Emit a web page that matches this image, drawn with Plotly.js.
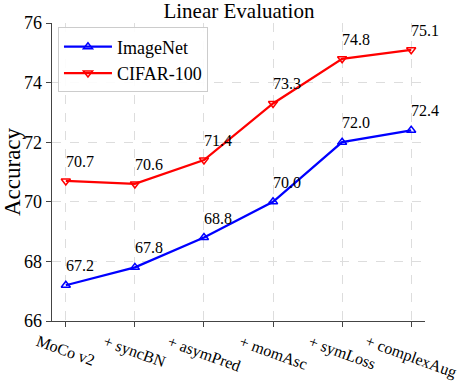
<!DOCTYPE html>
<html>
<head>
<meta charset="utf-8">
<script src="https://cdn.plot.ly/plotly-3.0.1.min.js"></script>
<style>
  body { margin: 0; background: #fff; }
  #chart { width: 464px; height: 382px; }
</style>
</head>
<body>
<div id="chart"></div>
<script>
// steps added on top of MoCo v2
var steps = ["MoCo v2", "+ syncBN", "+ asymPred", "+ momAsc", "+ symLoss", "+ complexAug"];
var imagenet = [67.2, 67.8, 68.8, 70.0, 72.0, 72.4];
var cifar = [70.7, 70.6, 71.4, 73.3, 74.8, 75.1];
var yTicks = [66, 68, 70, 72, 74, 76];

var xs = steps.map((s, i) => i);
var serif = "Liberation Serif, Times New Roman, serif";

var trace1 = {
    x: xs, y: imagenet, name: "ImageNet",
    type: "scatter", mode: "lines+markers",
    line: {color: "#0000ff", width: 2.3},
    marker: {symbol: "triangle-up-open", size: 8, color: "#0000ff", line: {width: 1.5}}
};
var trace2 = {
    x: xs, y: cifar, name: "CIFAR-100",
    type: "scatter", mode: "lines+markers",
    line: {color: "#ff0000", width: 2.3},
    marker: {symbol: "triangle-down-open", size: 8, color: "#ff0000", line: {width: 1.5}}
};

var notes = [];
// value labels, above right of each point
[imagenet, cifar].forEach(function(series) {
    series.forEach(function(v, i) {
        notes.push({
            x: i, y: v, xref: "x", yref: "y",
            text: v.toFixed(1), showarrow: false,
            xanchor: "left", yanchor: "bottom", xshift: -2, yshift: 9,
            font: {family: serif, size: 16, color: "#000"}
        });
    });
});
// rotated category labels, centred under ticks
steps.forEach(function(s, i) {
    notes.push({
        x: i, y: 0, xref: "x", yref: "paper",
        text: s, showarrow: false, textangle: 20,
        xanchor: "center", yanchor: "top", yshift: -9,
        font: {family: serif, size: 16, color: "#000"}
    });
});

var layout = {
    width: 464, height: 382,
    margin: {l: 52, r: 39, t: 23, b: 61},
    paper_bgcolor: "#fff", plot_bgcolor: "#fff",
    font: {family: serif, size: 16, color: "#000"},
    title: {text: "Linear Evaluation", font: {family: serif, size: 21, color: "#000"},
            x: 0.515, xanchor: "center", y: 0.972, yanchor: "middle"},
    xaxis: {
        range: [-0.2, 5.2], tickvals: xs, showticklabels: false,
        showline: true, linecolor: "#444", linewidth: 1.3,
        ticks: "outside", ticklen: 5, tickcolor: "#444",
        showgrid: true, gridcolor: "#dddddd", griddash: "dash", gridwidth: 1,
        zeroline: false
    },
    yaxis: {
        range: [66, 76], tickvals: yTicks,
        showline: true, linecolor: "#444", linewidth: 1.3,
        ticks: "outside", ticklen: 5, tickcolor: "#444",
        tickfont: {family: serif, size: 18, color: "#000"},
        showgrid: true, gridcolor: "#dddddd", griddash: "dash", gridwidth: 1,
        zeroline: false,
        title: {text: "Accuracy", font: {family: serif, size: 23, color: "#000"}, standoff: 0}
    },
    legend: {
        x: 0.016, y: 0.985, xanchor: "left", yanchor: "top",
        bgcolor: "rgba(255,255,255,0.9)", bordercolor: "#cccccc", borderwidth: 1,
        font: {family: serif, size: 18, color: "#000"},
        itemwidth: 48, tracegroupgap: 0
    },
    annotations: notes,
    showlegend: true
};

Plotly.newPlot("chart", [trace1, trace2], layout, {displayModeBar: false, staticPlot: true});
</script>
</body>
</html>
